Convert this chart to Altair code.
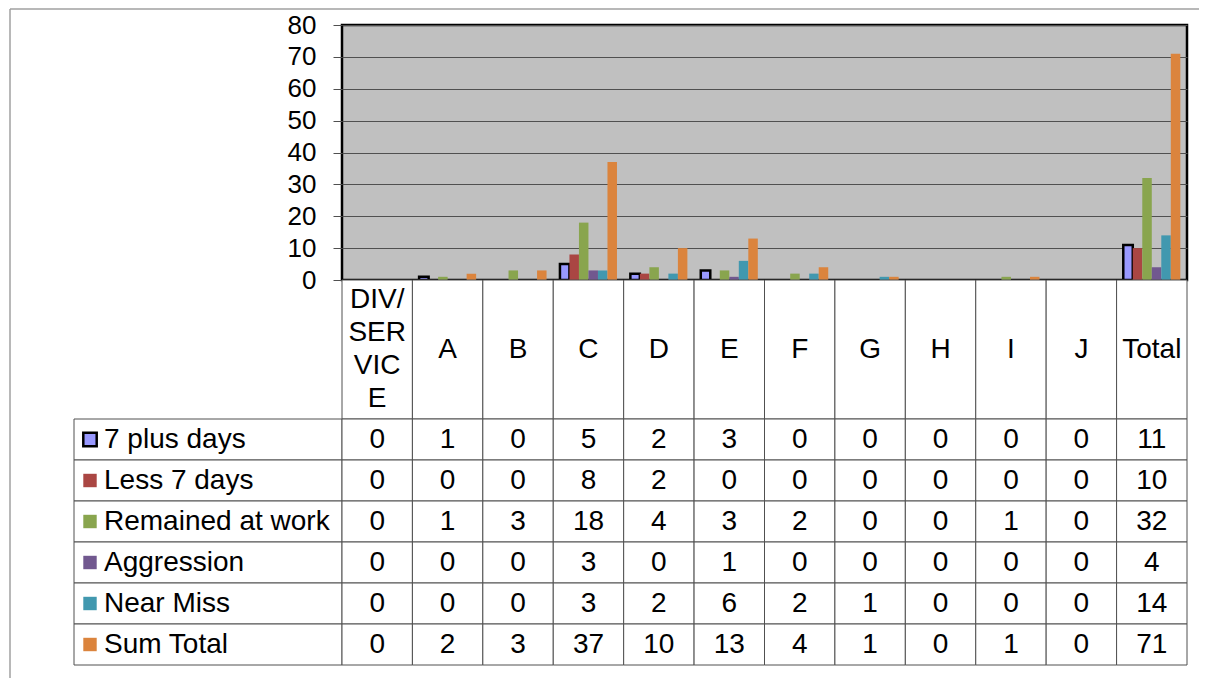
import altair as alt
import pandas as pd

categories = ["DIV/SERVICE", "A", "B", "C", "D", "E", "F", "G", "H", "I", "J", "Total"]
header_labels = ["DIV/\nSER\nVIC\nE", "A", "B", "C", "D", "E", "F", "G", "H", "I", "J", "Total"]
series_names = ["7 plus days", "Less 7 days", "Remained at work", "Aggression", "Near Miss", "Sum Total"]
plus7 = [0, 1, 0, 5, 2, 3, 0, 0, 0, 0, 0, 11]
less7 = [0, 0, 0, 8, 2, 0, 0, 0, 0, 0, 0, 10]
remained = [0, 1, 3, 18, 4, 3, 2, 0, 0, 1, 0, 32]
aggression = [0, 0, 0, 3, 0, 1, 0, 0, 0, 0, 0, 4]
near_miss = [0, 0, 0, 3, 2, 6, 2, 1, 0, 0, 0, 14]
sum_total = [0, 2, 3, 37, 10, 13, 4, 1, 0, 1, 0, 71]
colors = ["#9999FF", "#AA4643", "#89A54E", "#71588F", "#4198AF", "#DB843D"]
y_ticks = [0, 10, 20, 30, 40, 50, 60, 70, 80]

series_values = [plus7, less7, remained, aggression, near_miss, sum_total]
rows = []
for s, vals in zip(series_names, series_values):
    for c, v in zip(categories, vals):
        rows.append({"cat": c, "series": s, "value": v})
long_df = pd.DataFrame(rows)
hdr_df = pd.DataFrame({"cat": categories, "label": header_labels})
lab_df = pd.DataFrame({"series": series_names})
one = pd.DataFrame({"k": [0]})

FONT = "Liberation Sans"
LINE = "#505050"
FS = 28

is_plus7 = alt.datum.series == "7 plus days"
color_enc = alt.Color("series:N", scale=alt.Scale(domain=series_names, range=colors), legend=None)
stroke_enc = alt.condition(is_plus7, alt.value("black"), alt.value("transparent"))
strokew_enc = alt.condition(is_plus7, alt.value(2.5), alt.value(0))
bar_outline = "datum.series == '7 plus days' && datum.value > 0"

# ---- bar chart ----
x_bar = alt.X("cat:N", sort=categories, axis=None,
              scale=alt.Scale(domain=categories, paddingInner=0.19, paddingOuter=0.095))
bars = alt.Chart(long_df).mark_bar().encode(
    x=x_bar,
    xOffset=alt.XOffset("series:N", sort=series_names,
                        scale=alt.Scale(domain=series_names, paddingInner=0, paddingOuter=0)),
    y=alt.Y("value:Q", scale=alt.Scale(domain=[0, 80], nice=False),
            axis=alt.Axis(values=y_ticks, title=None, domain=False, grid=True,
                          gridColor=LINE, gridWidth=1, tickColor=LINE, tickSize=9,
                          labelPadding=17, labelFont=FONT, labelFontSize=26,
                          labelColor="black")),
    color=color_enc,
    stroke=alt.condition(bar_outline, alt.value("black"), alt.value("transparent")),
    strokeWidth=alt.condition(bar_outline, alt.value(2.5), alt.value(0)),
).properties(width=845, height=255,
             view=alt.ViewBackground(fill="#C0C0C0", stroke="black", strokeWidth=2.5))

# ---- outer frame (decoration) ----
frame_top = alt.Chart(one).mark_rule(color="#A0A0A0", strokeWidth=1.5).encode(
    x=alt.value(-64), x2=alt.value(1125), y=alt.value(-16))
frame_left = alt.Chart(one).mark_rule(color="#A0A0A0", strokeWidth=1.5).encode(
    x=alt.value(-64), y=alt.value(-16), y2=alt.value(653))
frame = alt.layer(frame_top, frame_left).properties(width=268, height=255)

# ---- header row ----
x_tab = alt.X("cat:N", sort=categories, axis=None,
              scale=alt.Scale(domain=categories, paddingInner=0, paddingOuter=0))
hdr_cells = alt.Chart(hdr_df).mark_rect(fill="white", stroke=LINE, strokeWidth=1).encode(x=x_tab)
hdr_text1 = alt.Chart(hdr_df).mark_text(font=FONT, fontSize=FS, color="black").encode(
    x=x_tab, text="label:N").transform_filter("indexof(datum.label, '\\n') < 0")
hdr_text2 = alt.Chart(hdr_df).mark_text(font=FONT, fontSize=FS, color="black",
                                         lineBreak="\n", lineHeight=33, dy=-50).encode(
    x=x_tab, text="label:N").transform_filter("indexof(datum.label, '\\n') >= 0")
header = alt.layer(hdr_cells, hdr_text1, hdr_text2).properties(width=845, height=139)
empty = alt.Chart(one).mark_text(text="").encode(x=alt.value(0)).properties(width=268, height=139)

# ---- label column ----
y_ser = alt.Y("series:N", sort=series_names, axis=None,
              scale=alt.Scale(domain=series_names, paddingInner=0, paddingOuter=0))
lab_cells = alt.Chart(lab_df).mark_rect(fill="white", stroke=LINE, strokeWidth=1).encode(y=y_ser)
lab_sw = alt.Chart(lab_df).mark_square(size=180, opacity=1, filled=True).encode(
    y=y_ser, x=alt.value(16), color=color_enc, stroke=stroke_enc, strokeWidth=strokew_enc)
lab_txt = alt.Chart(lab_df).mark_text(align="left", font=FONT, fontSize=FS, color="black").encode(
    y=y_ser, x=alt.value(30), text="series:N")
labels = alt.layer(lab_cells, lab_sw, lab_txt).properties(width=268, height=246)

# ---- values grid ----
val_cells = alt.Chart(long_df).mark_rect(fill="white", stroke=LINE, strokeWidth=1).encode(
    x=x_tab, y=y_ser)
val_txt = alt.Chart(long_df).mark_text(font=FONT, fontSize=FS, color="black").encode(
    x=x_tab, y=y_ser, text="value:Q")
values = alt.layer(val_cells, val_txt).properties(width=845, height=246)

chart = alt.concat(frame, bars, empty, header, labels, values,
                   columns=2, spacing=0, bounds="flush", align="each").properties(
    padding={"left": 1, "top": 0, "right": 0, "bottom": 0},
    background="white",
).configure_view(strokeWidth=0)

chart.save("out.html", embed_options={"renderer": "svg", "actions": False})
